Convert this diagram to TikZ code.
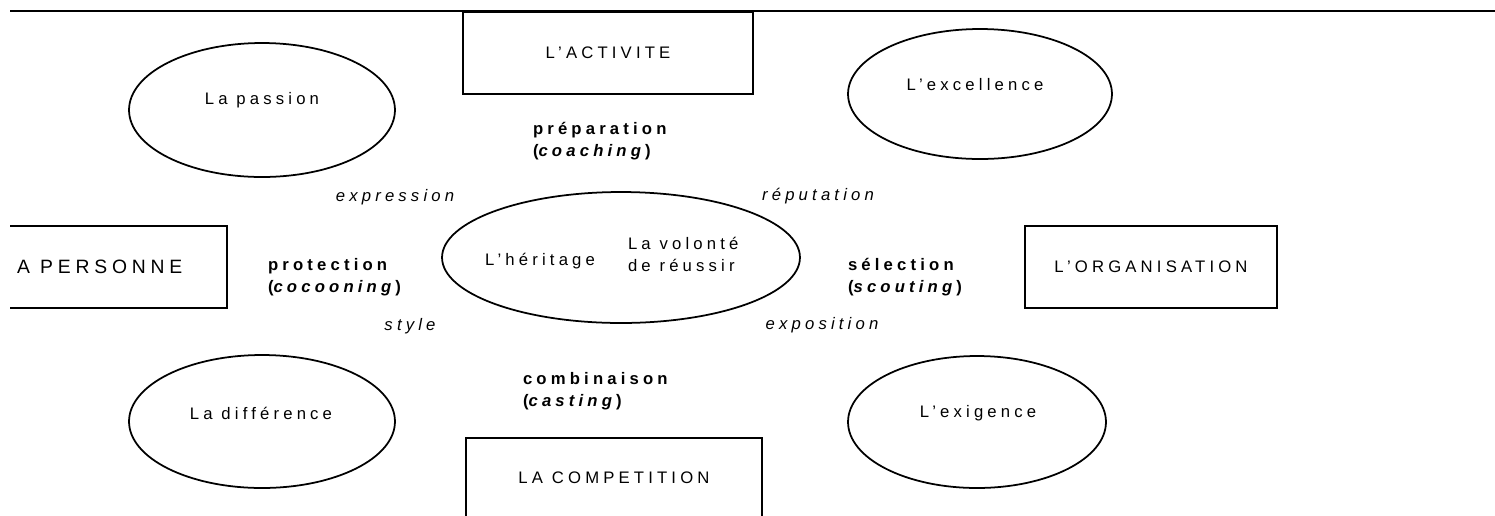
\documentclass[tikz,border=0pt]{standalone}
\usepackage{fontspec}
\setmainfont{Liberation Sans}[LetterSpace=25]
\usetikzlibrary{shapes.geometric}
\begin{document}
\begin{tikzpicture}[x=0.02cm,y=-0.02cm,
  every node/.style={font=\fontsize{9.5}{12.5}\selectfont, inner sep=0pt, outer sep=0pt},
  oval/.style={draw, ellipse, line width=1pt},
  frame/.style={draw, rectangle, line width=1pt},
  rel/.style={font=\fontsize{9.5}{12.5}\selectfont\itshape},
  act/.style={font=\fontsize{9.5}{12.5}\selectfont\bfseries, align=left, anchor=west},
]
\useasboundingbox (0,0) rectangle (1495,515);
\begin{scope}
\clip (10,0) rectangle (1495,515);
\coordinate (lineL) at (10,11);
\coordinate (lineR) at (1495,11);
\draw[line width=1pt] (lineL) -- (lineR);

% boxes
\node[frame, minimum width=5.8cm, minimum height=1.64cm] (activite) at (608,53) {L'ACTIVITE};
\node[frame, minimum width=5.34cm, minimum height=1.64cm] (personnebox) at (93.5,267) {};
\node[anchor=west, font=\fontsize{11}{13}\selectfont] (personne) at (17,267) {A PERSONNE};
\node[frame, minimum width=5.04cm, minimum height=1.64cm] (organisation) at (1151,267) {L'ORGANISATION};
\node[frame, minimum width=5.92cm, minimum height=1.6cm] (competition) at (614,478) {LA COMPETITION};

% ellipses
\node[oval, minimum width=5.32cm, minimum height=2.68cm] (passionE) at (262,110) {};
\node (passion) at (262,100) {La passion};
\node[oval, minimum width=5.28cm, minimum height=2.6cm] (excellenceE) at (980,94) {};
\node (excellence) at (975,85) {L'excellence};
\node[oval, minimum width=7.16cm, minimum height=2.62cm] (centreE) at (621,257.5) {};
\node (heritage) at (540,261) {L'héritage};
\node[align=left, anchor=west] (volonte) at (628,254) {La volonté\\de réussir};
\node[oval, minimum width=5.32cm, minimum height=2.66cm] (differenceE) at (262,421.5) {};
\node (difference) at (261,413) {La différence};
\node[oval, minimum width=5.16cm, minimum height=2.64cm] (exigenceE) at (977,422) {};
\node (exigence) at (978,413) {L'exigence};

% italic relations
\node[rel] (expression) at (395,197) {expression};
\node[rel] (reputation) at (818,196) {réputation};
\node[rel] (style) at (410,326) {style};
\node[rel] (exposition) at (822,325) {exposition};

% bold actions
\node[act] (preparation) at (533,141) {préparation\\(\textit{coaching})};
\node[act] (protection) at (268,277) {protection\\(\textit{cocooning})};
\node[act] (selection) at (848,277) {sélection\\(\textit{scouting})};
\node[act] (combinaison) at (523,391) {combinaison\\(\textit{casting})};
\end{scope}
\end{tikzpicture}
\end{document}
